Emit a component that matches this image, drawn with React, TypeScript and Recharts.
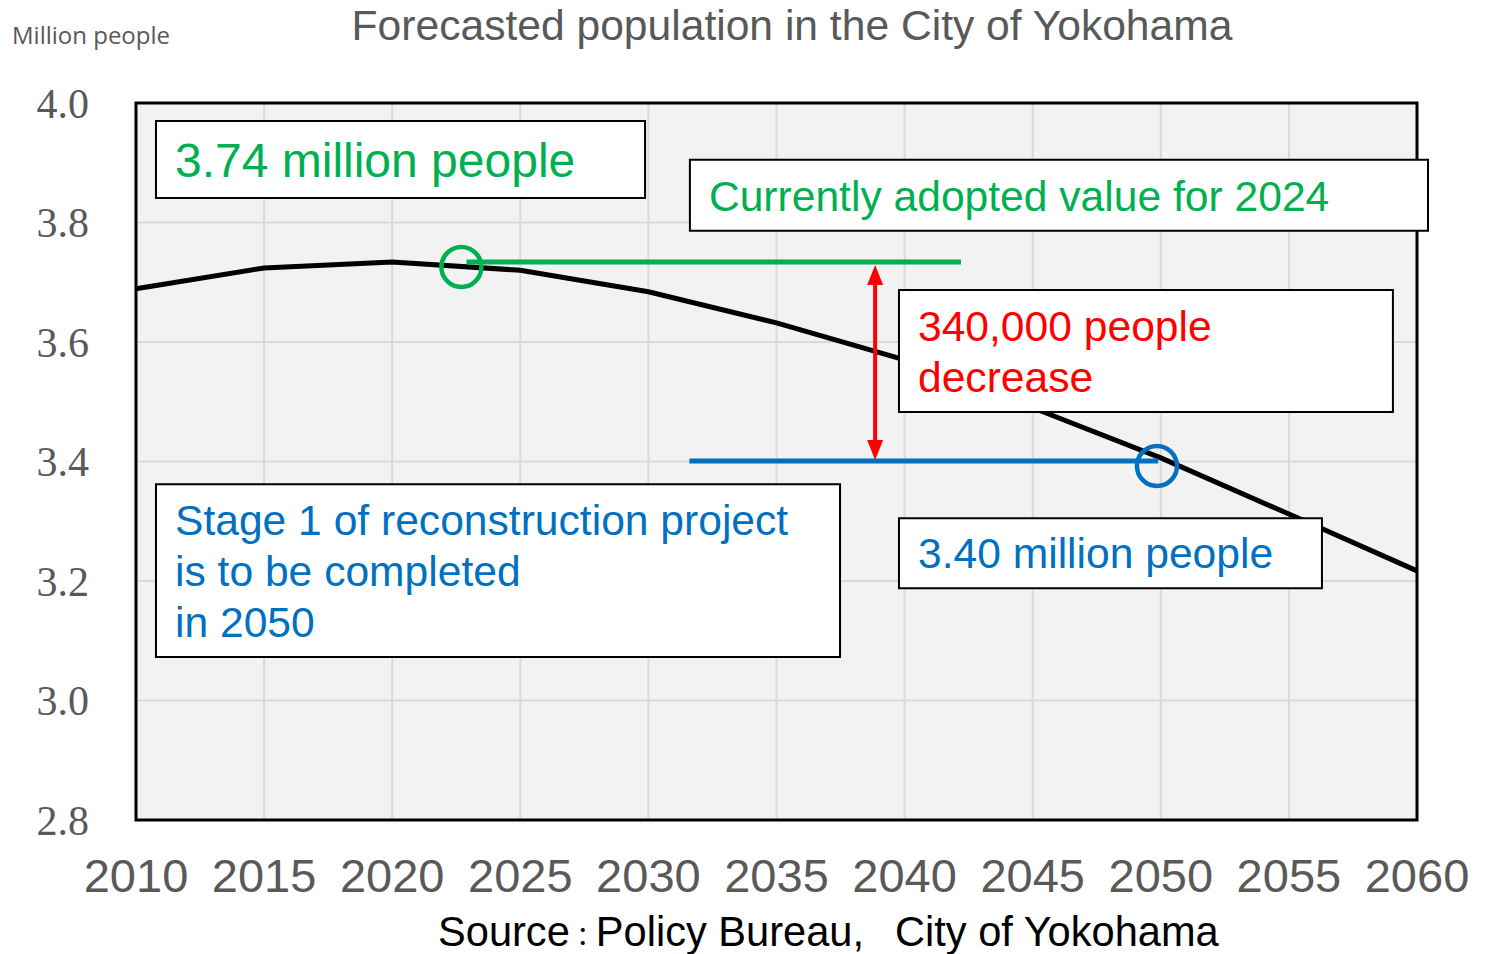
import React from 'react';
import {
  LineChart, Line, XAxis, YAxis, CartesianGrid, ReferenceArea, ReferenceLine, ReferenceDot,
} from 'recharts';

// data (million people)
const years = [2010, 2015, 2020, 2025, 2030, 2035, 2040, 2045, 2050, 2055, 2060];
const population = [3.689, 3.724, 3.734, 3.72, 3.684, 3.632, 3.57, 3.49, 3.406, 3.312, 3.217];
const yTicks = [2.8, 3.0, 3.2, 3.4, 3.6, 3.8, 4.0];

const title = 'Forecasted population in the City of Yokohama';
const unitLabel = 'Million people';
const sourceParts = ['Source', '：', 'Policy Bureau,', '　', 'City of Yokohama'];

// annotation values
const adoptedValue = 3.734;
const value2050 = 3.401;
const adoptedYear = 2022.7;
const targetYear = 2049.85;

const GREEN = '#00b050';
const BLUE = '#0070c0';
const RED = '#ff0000';
const GRAY = '#595959';
const SANS = '"Liberation Sans", Arial, sans-serif';

const data = years.map((y, i) => ({ year: y, pop: population[i] }));

type Note = { x1: number; x2: number; y1: number; y2: number; lines: string[]; color: string; size: number };

const notes: Note[] = [
  { x1: 2010.78, x2: 2029.87, y1: 3.841, y2: 3.97, lines: ['3.74 million people'], color: GREEN, size: 48 },
  { x1: 2031.62, x2: 2060.43, y1: 3.786, y2: 3.905, lines: ['Currently adopted value for 2024'], color: GREEN, size: 42.6 },
  { x1: 2039.78, x2: 2059.06, y1: 3.483, y2: 3.687, lines: ['340,000 people', 'decrease'], color: RED, size: 42.6 },
  {
    x1: 2010.78, x2: 2037.48, y1: 3.073, y2: 3.362,
    lines: ['Stage 1 of reconstruction project', 'is to be completed', 'in 2050'], color: BLUE, size: 42.6,
  },
  { x1: 2039.78, x2: 2056.29, y1: 3.188, y2: 3.305, lines: ['3.40 million people'], color: BLUE, size: 42.6 },
];

function BoxText(props: any) {
  const { viewBox, lines, color, size } = props;
  if (!viewBox) return null;
  const { x, y, height } = viewBox;
  const lh = 51;
  const cy = y + height / 2;
  const first = cy - ((lines.length - 1) * lh) / 2;
  return (
    <text fill={color} fontSize={size} fontFamily={SANS}>
      {lines.map((l: string, i: number) => (
        <tspan key={i} x={x + 19} y={first + i * lh + size * 0.358}>{l}</tspan>
      ))}
    </text>
  );
}

function Ring(color: string) {
  return (p: any) => (
    <circle cx={p.cx} cy={p.cy} r={20} fill="none" stroke={color} strokeWidth={4.5} />
  );
}

function DoubleArrow(p: any) {
  const { x1, y1, x2, y2 } = p;
  const top = Math.min(y1, y2);
  const bot = Math.max(y1, y2);
  const hw = 8;
  const hl = 20;
  return (
    <g>
      <line x1={x1} x2={x2} y1={top + hl - 2} y2={bot - hl + 2} stroke={RED} strokeWidth={4} />
      <polygon points={`${x1},${top} ${x1 - hw},${top + hl} ${x1 + hw},${top + hl}`} fill={RED} />
      <polygon points={`${x1},${bot} ${x1 - hw},${bot - hl} ${x1 + hw},${bot - hl}`} fill={RED} />
    </g>
  );
}

export default function App() {
  return (
    <div style={{ position: 'absolute', left: 0, top: 0, width: 1496, height: 954, background: '#fff' }}>
      <LineChart width={1496} height={954} data={data} margin={{ top: 103, right: 79, left: 0, bottom: 0 }}>
        <CartesianGrid fill="#f2f2f2" stroke="#d9d9d9" strokeWidth={2} />
        <XAxis
          dataKey="year" type="number" domain={[2010, 2060]} ticks={years} interval={0}
          height={134} axisLine={false} tickLine={false} tickMargin={33}
          tick={{ fontSize: 47, fill: GRAY, fontFamily: SANS }}
        />
        <YAxis
          type="number" domain={[2.8, 4.0]} ticks={yTicks} width={136} interval={0}
          axisLine={false} tickLine={false} tickMargin={41}
          tickFormatter={(v: number) => v.toFixed(1)}
          tick={{ fontSize: 42, fill: GRAY, fontFamily: '"Liberation Serif", "Times New Roman", serif' }}
        />
        <Line
          dataKey="pop" type="linear" stroke="#000" strokeWidth={5} dot={false}
          activeDot={false} isAnimationActive={false}
        />
        <ReferenceArea
          x1={2010} x2={2060} y1={2.8} y2={4.0} fill="none" stroke="#000" strokeWidth={3}
          ifOverflow="visible" zIndex={1400}
        />
        {notes.map((n, i) => (
          <ReferenceArea
            key={i} x1={n.x1} x2={n.x2} y1={n.y1} y2={n.y2} fill="#fff" fillOpacity={1}
            stroke="#000" strokeWidth={2} ifOverflow="visible" zIndex={1500}
            label={<BoxText lines={n.lines} color={n.color} size={n.size} />}
          />
        ))}
        <ReferenceLine
          segment={[{ x: 2022.9, y: adoptedValue }, { x: 2042.2, y: adoptedValue }]}
          stroke={GREEN} strokeWidth={5} ifOverflow="visible" zIndex={1600}
        />
        <ReferenceLine
          segment={[{ x: 2031.6, y: value2050 }, { x: 2049.9, y: value2050 }]}
          stroke={BLUE} strokeWidth={5} ifOverflow="visible" zIndex={1600}
        />
        <ReferenceLine
          segment={[{ x: 2038.85, y: 3.729 }, { x: 2038.85, y: 3.4025 }]}
          shape={DoubleArrow} ifOverflow="visible" zIndex={1600}
        />
        <ReferenceDot
          x={adoptedYear} y={3.7255} r={20} shape={Ring(GREEN)} ifOverflow="visible" zIndex={1700}
        />
        <ReferenceDot
          x={targetYear} y={3.3925} r={20} shape={Ring(BLUE)} ifOverflow="visible" zIndex={1700}
        />
      </LineChart>
      <svg
        width={1496} height={954}
        style={{ position: 'absolute', left: 0, top: 0, pointerEvents: 'none' }}
      >
        <text x={792} y={40} textAnchor="middle" fontSize={42.6} fill={GRAY} fontFamily={SANS}>{title}</text>
        <text x={12} y={44} fontSize={24} fill={GRAY} fontFamily='"Open Sans", sans-serif'>{unitLabel}</text>
        <text x={438} y={946} fontSize={41.6} fill="#000" fontFamily={`${SANS}, "Noto Sans CJK JP"`}>
          <tspan>{sourceParts[0]}</tspan>
          <tspan fontSize={26}>{sourceParts[1]}</tspan>
          <tspan>{sourceParts[2]}</tspan>
          <tspan fontSize={31}>{sourceParts[3]}</tspan>
          <tspan>{sourceParts[4]}</tspan>
        </text>
      </svg>
    </div>
  );
}
